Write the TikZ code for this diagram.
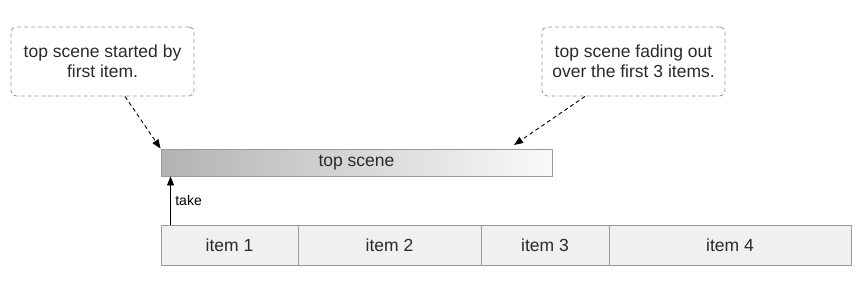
\documentclass[tikz,border=0pt]{standalone}
\usepackage{fontspec}
\setmainfont{Liberation Sans}
\usetikzlibrary{arrows.meta}
\definecolor{txt}{HTML}{2A2A2A}
\definecolor{edge}{HTML}{999999}
\definecolor{cellfill}{HTML}{F0F0F0}
\begin{document}
\begin{tikzpicture}[x=1pt,y=-1pt,
  note/.style={draw=edge, dashed, dash pattern=on 4pt off 3pt, rounded corners=5pt, line width=0.9pt,
    minimum width=183pt, minimum height=69pt, align=center, text=txt,
    font=\fontsize{17.5}{20}\selectfont, inner sep=0pt},
  cell/.style={draw=edge, fill=cellfill, line width=0.9pt, minimum height=40pt, inner sep=0pt,
    text=txt, font=\fontsize{17.5}{20}\selectfont},
  pointer/.style={-{Triangle[length=9pt,width=7pt]}, dashed, dash pattern=on 4pt off 3pt, line width=0.9pt, black},
  takearrow/.style={-{Triangle[length=9pt,width=7pt]}, line width=0.9pt, black}]
\useasboundingbox (0,0) rectangle (865,284);
% callouts
\node[note] (n1) at (102.5,61.5) {top scene started by\\first item.};
\node[note] (n2) at (633.5,61.5) {top scene fading out\\over the first 3 items.};
% top scene bar
\node[draw=edge, line width=0.9pt, left color=black!30, middle color=black!11, right color=black!2,
  minimum width=391pt, minimum height=27pt, inner sep=0pt, text=txt,
  font=\fontsize{17.5}{20}\selectfont] (bar) at (356.5,162.5) {top scene};
% items
\node[cell, minimum width=137pt] (i1) at (229.5,245) {item 1};
\node[cell, minimum width=183pt] (i2) at (389.5,245) {item 2};
\node[cell, minimum width=128pt] (i3) at (545,245) {item 3};
\node[cell, minimum width=242pt] (i4) at (730,245) {item 4};
% arrows
\coordinate (e2) at (514,145);
\draw[pointer] ([xshift=22.5pt]n1.south) -- (bar.north west);
\draw[pointer] ([xshift=-48.5pt]n2.south) -- (e2);
\draw[takearrow] ([xshift=10pt]i1.north west) -- node[right, text=black, font=\fontsize{14}{16}\selectfont, xshift=1pt] (tk) {take} ([xshift=10pt]bar.south west);
\end{tikzpicture}
\end{document}
